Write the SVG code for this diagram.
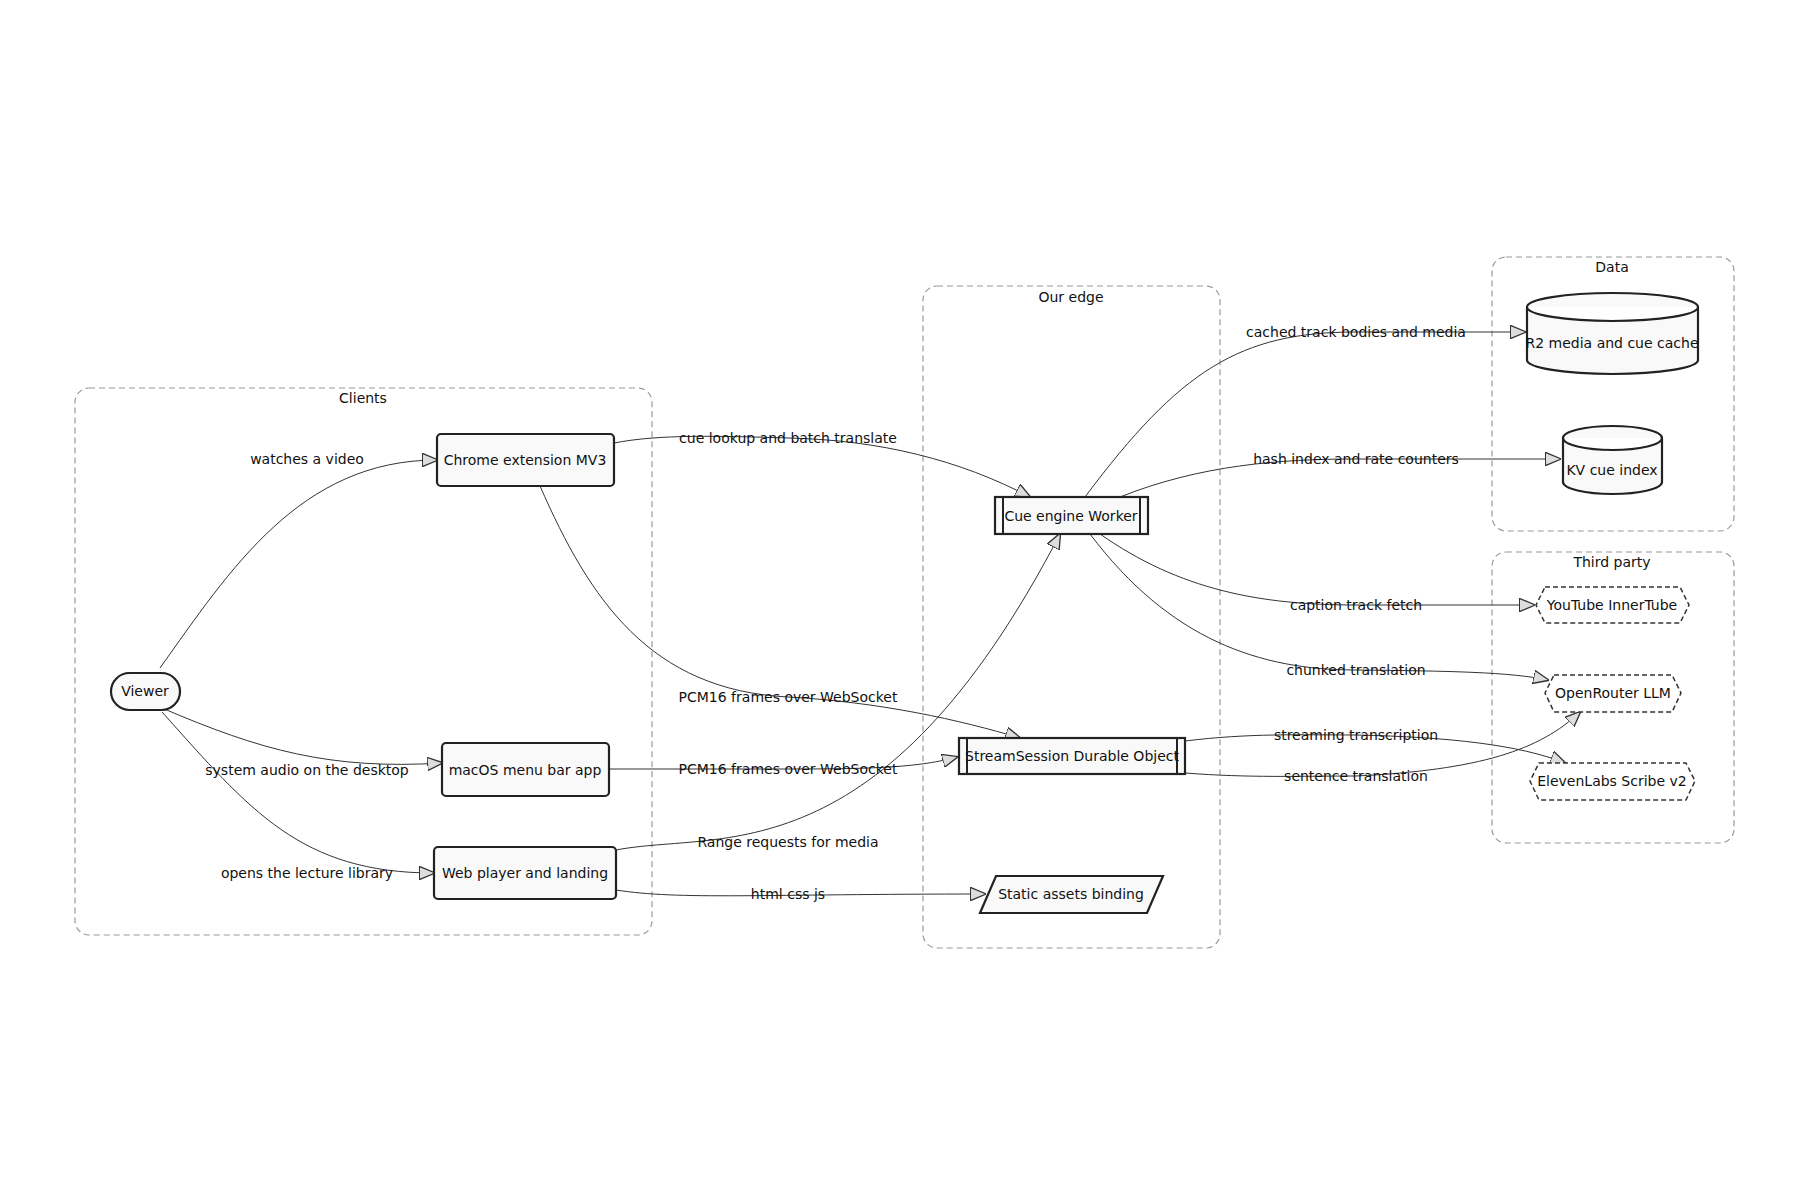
<svg xmlns="http://www.w3.org/2000/svg" width="1800" height="1200" viewBox="0 0 1800 1200">
<defs>
<style>
text{font-family:"DejaVu Sans","Liberation Sans",sans-serif;font-size:14px;fill:#111;text-anchor:middle;dominant-baseline:central}
.cl{fill:#fff;stroke:#999;stroke-dasharray:6 4;stroke-width:1.2}
.n{fill:#f9f9f9;stroke:#222;stroke-width:2.2}
.d{fill:#fff;stroke:#333;stroke-width:1.5;stroke-dasharray:5 3}
.e{fill:none;stroke:#333;stroke-width:1;marker-end:url(#a)}
</style>
<marker id="a" viewBox="0 0 12 10" refX="11" refY="5" markerWidth="16" markerHeight="14" markerUnits="userSpaceOnUse" orient="auto">
<path d="M0,0 L12,5 L0,10 Z" fill="#ddd" stroke="#333" stroke-width="1"/>
</marker>
</defs>
<rect width="1800" height="1200" fill="#fff"/>
<g id="clusters">
<rect class="cl" x="75" y="388" width="577" height="547" rx="14"/><text x="363" y="398">Clients</text>
<rect class="cl" x="923" y="286" width="297" height="662" rx="14"/><text x="1071" y="297">Our edge</text>
<rect class="cl" x="1492" y="257" width="242" height="274" rx="14"/><text x="1612" y="267">Data</text>
<rect class="cl" x="1492" y="552" width="242" height="291" rx="14"/><text x="1612" y="562">Third party</text>
</g>
<g id="edges">
<path class="e" d="M160,668 C230,570 300,460 437,460"/>
<path class="e" d="M162,708 C260,750 330,770 442,763"/>
<path class="e" d="M162,712 C250,810 300,873 434,873"/>
<path class="e" d="M614,443 C660,434 720,436 788,438 C880,440 960,460 1030,497"/>
<path class="e" d="M540,486 C590,600 650,690 788,697 C880,702 960,720 1020,738"/>
<path class="e" d="M609,769 L788,769 C880,769 920,767 957,757"/>
<path class="e" d="M616,850 C720,830 880,880 1060,534"/>
<path class="e" d="M616,890 C680,900 760,894 985,894"/>
<path class="e" d="M1085,497 C1180,370 1240,332 1356,332 L1525,332"/>
<path class="e" d="M1120,497 C1200,465 1280,459 1356,459 L1560,459"/>
<path class="e" d="M1100,534 C1180,590 1260,605 1356,605 L1534,605"/>
<path class="e" d="M1090,534 C1170,640 1260,670 1356,670 C1450,671 1510,672 1548,680"/>
<path class="e" d="M1185,741 C1250,733 1300,735 1356,735 C1450,737 1520,745 1565,763"/>
<path class="e" d="M1185,773 C1250,778 1300,776 1356,776 C1480,770 1540,750 1580,712"/>
</g>
<g id="edge-labels">
<text x="307" y="459">watches a video</text>
<text x="307" y="770">system audio on the desktop</text>
<text x="307" y="873">opens the lecture library</text>
<text x="788" y="438">cue lookup and batch translate</text>
<text x="788" y="697">PCM16 frames over WebSocket</text>
<text x="788" y="769">PCM16 frames over WebSocket</text>
<text x="788" y="842">Range requests for media</text>
<text x="788" y="894">html css js</text>
<text x="1356" y="332">cached track bodies and media</text>
<text x="1356" y="459">hash index and rate counters</text>
<text x="1356" y="605">caption track fetch</text>
<text x="1356" y="670">chunked translation</text>
<text x="1356" y="735">streaming transcription</text>
<text x="1356" y="776">sentence translation</text>
</g>
<g id="viewer"><rect class="n" x="111" y="673" width="69" height="37" rx="18.5" stroke-width="1.5"/><text x="145" y="691">Viewer</text></g>
<g id="chrome"><rect class="n" x="437" y="434" width="177" height="52" rx="4"/><text x="525" y="460">Chrome extension MV3</text></g>
<g id="macos"><rect class="n" x="442" y="743" width="167" height="53" rx="4"/><text x="525" y="770">macOS menu bar app</text></g>
<g id="web"><rect class="n" x="434" y="847" width="182" height="52" rx="4"/><text x="525" y="873">Web player and landing</text></g>
<g id="cue"><rect class="n" x="995" y="497" width="153" height="37"/><line x1="1003" y1="497" x2="1003" y2="534" stroke="#222" stroke-width="2"/><line x1="1140" y1="497" x2="1140" y2="534" stroke="#222" stroke-width="2"/><text x="1071" y="516">Cue engine Worker</text></g>
<g id="stream"><rect class="n" x="959" y="738" width="226" height="36"/><line x1="967" y1="738" x2="967" y2="774" stroke="#222" stroke-width="2"/><line x1="1177" y1="738" x2="1177" y2="774" stroke="#222" stroke-width="2"/><text x="1072" y="756">StreamSession Durable Object</text></g>
<g id="static"><polygon class="n" stroke-width="1.3" points="996,876 1163,876 1147,913 980,913"/><text x="1071" y="894">Static assets binding</text></g>
<g id="r2"><path class="n" d="M1527,307 A85.5,14 0 0 1 1698,307 L1698,360 A85.5,14 0 0 1 1527,360 Z M1527,307 A85.5,14 0 0 0 1698,307"/><text x="1612" y="343">R2 media and cue cache</text></g>
<g id="kv"><path class="n" d="M1563,438 A49.5,12 0 0 1 1662,438 L1662,482 A49.5,12 0 0 1 1563,482 Z M1563,438 A49.5,12 0 0 0 1662,438"/><text x="1612" y="470">KV cue index</text></g>
<g id="youtube"><polygon class="d" points="1545,587 1680,587 1689,605 1680,623 1545,623 1536,605"/><text x="1612" y="605">YouTube InnerTube</text></g>
<g id="openrouter"><polygon class="d" points="1554,675 1672,675 1681,693 1672,712 1554,712 1545,693"/><text x="1613" y="693">OpenRouter LLM</text></g>
<g id="elevenlabs"><polygon class="d" points="1539,763 1686,763 1695,781 1686,800 1539,800 1530,781"/><text x="1612" y="781">ElevenLabs Scribe v2</text></g>
</svg>
